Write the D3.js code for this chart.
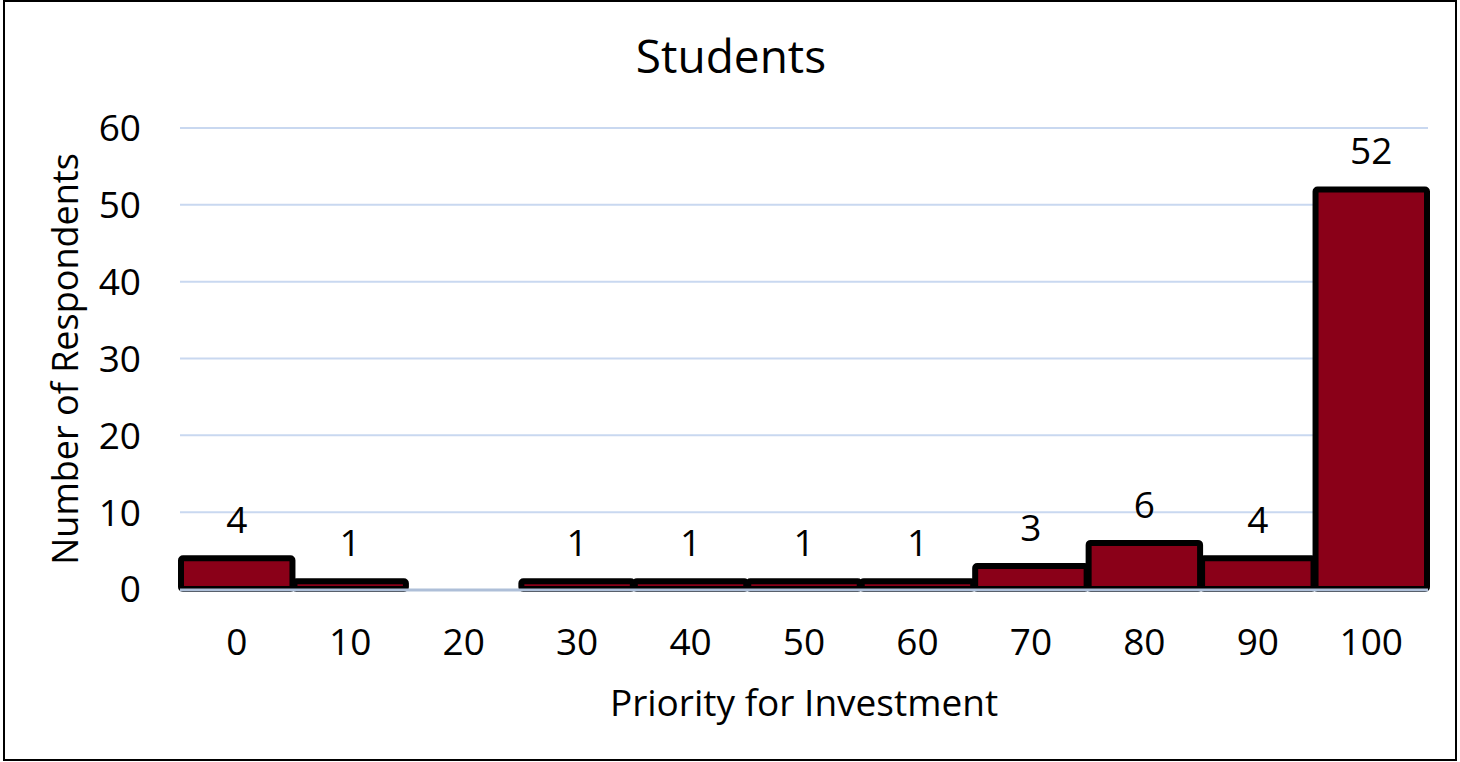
<!DOCTYPE html>
<html>
<head>
<meta charset="utf-8">
<script src="https://cdn.jsdelivr.net/npm/d3@7"></script>
<style>
  body { margin: 0; background: #fff; }
  svg { display: block; font-family: "Open Sans", Calibri, sans-serif; }
  .axis path, .axis line { display: none; }
  .axis text { font-family: "Open Sans", Calibri, sans-serif; font-size: 37px; fill: #000; }
</style>
</head>
<body>
<svg width="1460" height="762"></svg>
<script>
var categories = ["0", "10", "20", "30", "40", "50", "60", "70", "80", "90", "100"];
var counts = [4, 1, 0, 1, 1, 1, 1, 3, 6, 4, 52];
var yTicks = [0, 10, 20, 30, 40, 50, 60];

var data = categories.map(function(c, i) { return {cat: c, n: counts[i]}; });

var svg = d3.select("svg"),
    margin = {top: 128, right: 32, bottom: 173, left: 180},
    width = +svg.attr("width") - margin.left - margin.right,
    height = +svg.attr("height") - margin.top - margin.bottom,
    g = svg.append("g").attr("transform", "translate(" + margin.left + "," + margin.top + ")");

// outer frame
svg.append("rect")
    .attr("x", 4).attr("y", 1)
    .attr("width", 1452).attr("height", 759)
    .attr("fill", "none")
    .attr("stroke", "#000")
    .attr("stroke-width", 2);

var x = d3.scaleBand().domain(categories).range([0, width]).padding(0);
var y = d3.scaleLinear().domain([0, 60]).range([height, 0]);

// gridlines
g.append("g")
  .selectAll("line")
  .data(yTicks.slice(1))
  .enter().append("line")
    .attr("x1", 0).attr("x2", width)
    .attr("y1", function(d) { return y(d); })
    .attr("y2", function(d) { return y(d); })
    .attr("stroke", "#c9d8f0")
    .attr("stroke-width", 2);

g.append("g")
    .attr("class", "axis axis--y")
    .call(d3.axisLeft(y).tickValues(yTicks).tickSize(0).tickPadding(39))
  .selectAll("text")
    .attr("dy", "0.35em");

g.append("g")
    .attr("class", "axis axis--x")
    .attr("transform", "translate(0," + height + ")")
    .call(d3.axisBottom(x).tickSize(0).tickPadding(40));

// bars
g.append("g")
  .selectAll("rect")
  .data(data.filter(function(d) { return d.n > 0; }))
  .enter().append("rect")
    .attr("x", function(d) { return x(d.cat) + 1; })
    .attr("y", function(d) { return y(d.n); })
    .attr("width", x.bandwidth() - 2)
    .attr("height", function(d) { return height - y(d.n); })
    .attr("rx", 2)
    .attr("fill", "#8a0018")
    .attr("stroke", "#000")
    .attr("stroke-width", 6);

// baseline
g.append("line")
    .attr("x1", 0).attr("x2", width)
    .attr("y1", height + 1).attr("y2", height + 1)
    .attr("stroke", "#aebfd8")
    .attr("stroke-width", 3);

// data labels
g.append("g")
  .selectAll("text")
  .data(data.filter(function(d) { return d.n > 0; }))
  .enter().append("text")
    .attr("x", function(d) { return x(d.cat) + x.bandwidth() / 2; })
    .attr("y", function(d) { return y(d.n) - 25; })
    .attr("text-anchor", "middle")
    .style("font-size", "37px")
    .text(function(d) { return d.n; });

// title
svg.append("text")
    .attr("x", 731)
    .attr("y", 73)
    .attr("text-anchor", "middle")
    .style("font-size", "46px")
    .text("Students");

svg.append("text")
    .attr("x", 804)
    .attr("y", 716)
    .attr("text-anchor", "middle")
    .style("font-size", "37px")
    .text("Priority for Investment");

svg.append("text")
    .attr("transform", "translate(78,359) rotate(-90)")
    .attr("text-anchor", "middle")
    .style("font-size", "36px")
    .text("Number of Respondents");
</script>
</body>
</html>
